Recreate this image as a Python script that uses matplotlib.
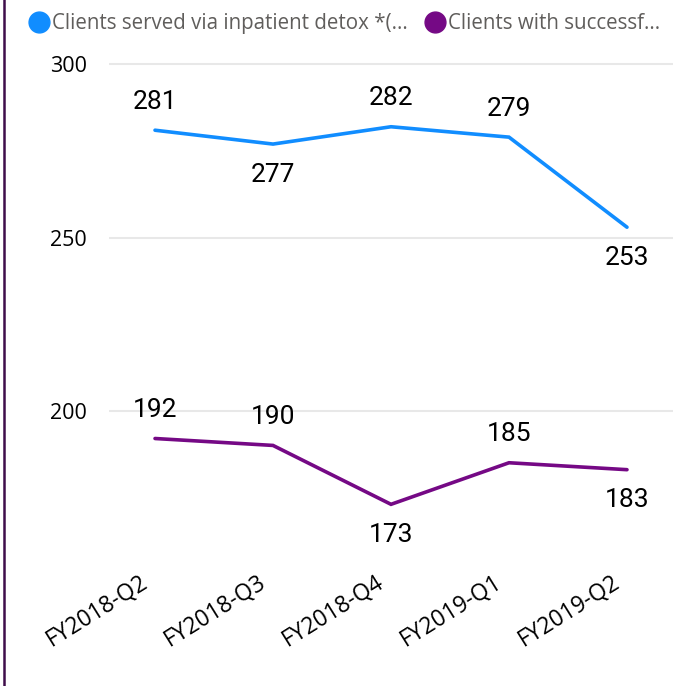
import matplotlib
matplotlib.use("Agg")
import matplotlib.pyplot as plt
from matplotlib.lines import Line2D

quarters = ["FY2018-Q2", "FY2018-Q3", "FY2018-Q4", "FY2019-Q1", "FY2019-Q2"]
detox = [281, 277, 282, 279, 253]
successful = [192, 190, 173, 185, 183]
# where each data label sits: 1 above the point, -1 below
detox_pos = [1, -1, 1, 1, -1]
successful_pos = [1, 1, -1, 1, -1]

legend_names = ["Clients served via inpatient detox *(...", "Clients with successf..."]
blue = "#118DFF"
purple = "#750985"

W, H = 678, 686
fig = plt.figure(figsize=(W / 100, H / 100), dpi=100)
ax = fig.add_axes([109 / W, 1 - 540 / H, (673 - 109) / W, (540 - 45) / H])

x = list(range(len(quarters)))
ax.plot(x, detox, color=blue, lw=2.6, solid_capstyle="round", solid_joinstyle="miter")
ax.plot(x, successful, color=purple, lw=2.6, solid_capstyle="round", solid_joinstyle="miter")

for vals, pos in [(detox, detox_pos), (successful, successful_pos)]:
    for xi, v, p in zip(x, vals, pos):
        ax.annotate(str(v), (xi, v), xytext=(0, 20.5 if p > 0 else -22),
                    textcoords="offset points", ha="center", va="center",
                    fontsize=19, family="Roboto", color="#000000")

ax.set_xlim(-0.39, 4.39)
ax.set_ylim(162.7, 305.6)
ax.set_yticks([200, 250, 300])
ax.set_xticks(x)
ax.set_xticklabels([])
# category labels, slanted, top-right end tucked under each point
for xi, q in zip(x, quarters):
    ax.annotate(q, (xi, 0), xycoords=("data", "axes fraction"), xytext=(-11, -22),
                textcoords="offset points", rotation=32, ha="right", va="top",
                rotation_mode="anchor", fontsize=16.5, family="Open Sans", color="#000000",
                annotation_clip=False)
ax.tick_params(axis="x", length=0)
ax.tick_params(axis="y", length=0, pad=16, labelsize=15.5, labelcolor="#000000")
for lab in ax.get_yticklabels():
    lab.set_family("Open Sans")
ax.grid(axis="y", color="#E8E8E8", lw=1.5)
ax.set_axisbelow(True)
for s in ax.spines.values():
    s.set_visible(False)

# legend row along the top
handles = [Line2D([], [], ls="", marker="o", ms=15, color=c) for c in (blue, purple)]
fig.legend(handles, legend_names, loc="upper left", bbox_to_anchor=(0.008, 1.008), ncol=2,
           frameon=False, handletextpad=-0.15, columnspacing=0.6, handlelength=1.5,
           prop={"family": "Open Sans", "size": 14.8}, labelcolor="#605E5C")

# dark border at the left edge
fig.add_artist(Line2D([3.5 / W, 3.5 / W], [0, 1], color="#3F0D4A", lw=1.8))

fig.savefig("out.png", dpi=100)
